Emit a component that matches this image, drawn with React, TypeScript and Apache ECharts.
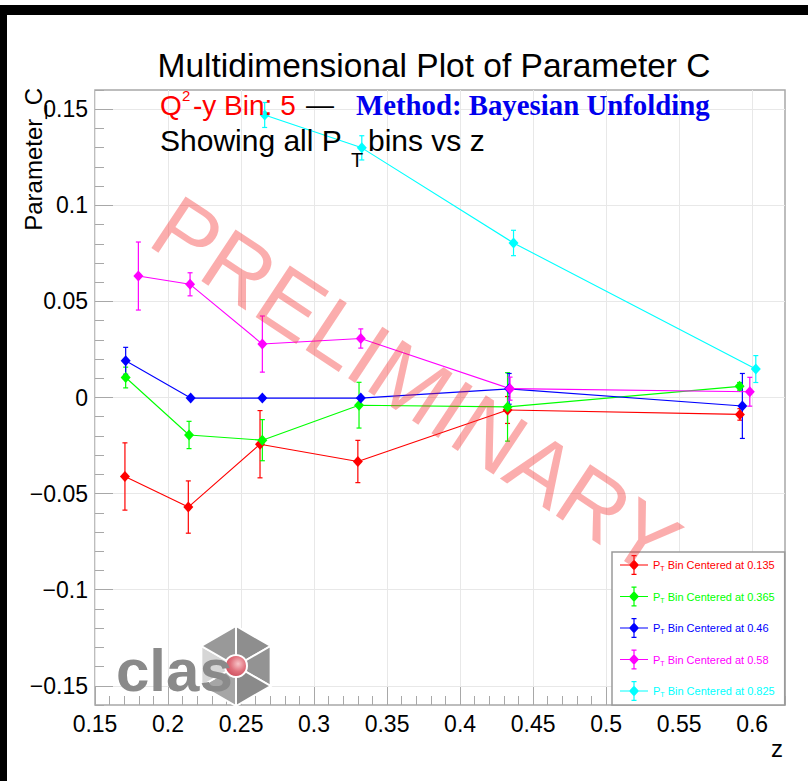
import React, { useEffect, useRef } from 'react';
import * as echarts from 'echarts';

// ---- data ----
const ptBins = ['0.135', '0.365', '0.46', '0.58', '0.825'];
const seriesColors = ['#ff0000', '#00ff00', '#0000ff', '#ff00ff', '#00ffff'];

const zRed = [0.1705, 0.2139, 0.263, 0.33, 0.4325, 0.5916];
const cRed = [-0.0411, -0.057, -0.0243, -0.0333, -0.0065, -0.0088];
const eRed = [0.0175, 0.0136, 0.0175, 0.011, 0.007, 0.003];

const zGreen = [0.171, 0.2144, 0.2646, 0.3308, 0.4325, 0.5914];
const cGreen = [0.0104, -0.0195, -0.0222, -0.004, -0.0049, 0.0058];
const eGreen = [0.0054, 0.0071, 0.0107, 0.0119, 0.0178, 0.002];

const zBlue = [0.171, 0.2155, 0.2646, 0.332, 0.4336, 0.5933];
const cBlue = [0.0191, -0.0003, -0.0003, -0.0003, 0.0045, -0.0044];
const eBlue = [0.007, 0.0008, 0.0008, 0.0008, 0.008, 0.0169];

const zMagenta = [0.1797, 0.2151, 0.2646, 0.332, 0.4342, 0.5984];
const cMagenta = [0.0632, 0.0589, 0.0278, 0.0307, 0.0046, 0.003];
const eMagenta = [0.0177, 0.006, 0.0146, 0.005, 0.006, 0.0075];

const zCyan = [0.2662, 0.3327, 0.4366, 0.6025];
const cCyan = [0.147, 0.1299, 0.0804, 0.0148];
const eCyan = [0.0065, 0.0063, 0.0066, 0.007];

const xMajorTicks = [0.15, 0.2, 0.25, 0.3, 0.35, 0.4, 0.45, 0.5, 0.55, 0.6];
const yMajorTicks = [-0.15, -0.1, -0.05, 0, 0.05, 0.1, 0.15];

const allZ = [zRed, zGreen, zBlue, zMagenta, zCyan];
const allC = [cRed, cGreen, cBlue, cMagenta, cCyan];
const allE = [eRed, eGreen, eBlue, eMagenta, eCyan];

const FONT = 'Liberation Sans, Arial, Helvetica, sans-serif';

function fmt(v: number) {
  if (Math.abs(v) < 1e-9) return '0';
  const s = String(+v.toFixed(3));
  return s.replace('-', '\u2212');
}

export default function App() {
  const ref = useRef<HTMLDivElement>(null);

  useEffect(() => {
    if (!ref.current) return;
    const chart = echarts.init(ref.current, null, { renderer: 'svg' });

    const names = ptBins.map((b) => `PT Bin Centered at ${b}`);

    const series: any[] = [];
    names.forEach((name, i) => {
      const color = seriesColors[i];
      const z = allZ[i];
      const c = allC[i];
      const e = allE[i];
      series.push({
        type: 'custom',
        name,
        xAxisIndex: 0,
        yAxisIndex: 0,
        z: 3,
        silent: true,
        itemStyle: { color },
        encode: { x: 0, y: 1 },
        data: z.map((zz, k) => [zz, c[k], e[k]]),
        renderItem: (params: any, api: any) => {
          const x = api.value(0);
          const y = api.value(1);
          const er = api.value(2);
          const top = api.coord([x, y + er]);
          const bot = api.coord([x, y - er]);
          const style = { stroke: color, lineWidth: 1.2 };
          return {
            type: 'group',
            children: [
              { type: 'line', shape: { x1: top[0], y1: top[1], x2: bot[0], y2: bot[1] }, style },
              { type: 'line', shape: { x1: top[0] - 2.5, y1: top[1], x2: top[0] + 2.5, y2: top[1] }, style },
              { type: 'line', shape: { x1: bot[0] - 2.5, y1: bot[1], x2: bot[0] + 2.5, y2: bot[1] }, style },
            ],
          };
        },
      });
      series.push({
        type: 'line',
        name,
        xAxisIndex: 0,
        yAxisIndex: 0,
        z: 4,
        data: z.map((zz, k) => [zz, c[k]]),
        symbol: 'diamond',
        symbolSize: [10, 11],
        showSymbol: true,
        itemStyle: { color },
        lineStyle: { color, width: 1.1 },
      });
    });

    const legendIcon =
      'path://M0,9.4L28,9.4L28,10.6L0,10.6Z M13.4,0L14.6,0L14.6,20L13.4,20Z M11.5,0L16.5,0L16.5,1.2L11.5,1.2Z M11.5,18.8L16.5,18.8L16.5,20L11.5,20Z M14,4.5L19,10L14,15.5L9,10Z';

    // logo hexagon
    const cx = 236, cy = 666, R = 40;
    const V = [0, 1, 2, 3, 4, 5].map((k) => {
      const a = -Math.PI / 2 + (k * Math.PI) / 3;
      return [cx + R * Math.cos(a), cy + R * Math.sin(a)];
    });
    const triFill = ['#8e8e8e', '#939393', '#8a8a8a', '#a6a6a6', '#d6d6d6', '#999999'];
    const hexTris = V.map((v, k) => ({
      type: 'polygon',
      shape: { points: [[cx, cy], v, V[(k + 1) % 6]] },
      style: { fill: triFill[k], stroke: '#ffffff', lineWidth: 2 },
      z: 1,
    }));

    const minorTick = { show: true, inside: true, length: 9, lineStyle: { color: '#a8a8a8', width: 1 } };

    const option: any = {
      animation: false,
      backgroundColor: '#ffffff',
      title: {
        text: 'Multidimensional Plot of Parameter C',
        left: 434,
        textAlign: 'center',
        top: 46,
        padding: 0,
        textStyle: { fontFamily: FONT, fontSize: 33.5, fontWeight: 'normal', color: '#000', lineHeight: 38 },
      },
      grid: {
        left: 95,
        top: 90,
        width: 690,
        height: 615,
        show: true,
        borderColor: '#a8a8a8',
        borderWidth: 1.5,
        backgroundColor: 'transparent',
      },
      legend: {
        orient: 'vertical',
        left: 612,
        top: 552,
        padding: [3, 10, 4, 8],
        itemGap: 11.5,
        itemWidth: 28,
        itemHeight: 20,
        icon: legendIcon,
        backgroundColor: '#ffffff',
        borderColor: '#9a9a9a',
        borderWidth: 1.5,
        z: 10,
        selectedMode: false,
        formatter: (name: string) => {
          const rest = name.replace(/^PT/, '');
          return `{p|P}{s|T}{p|${rest}}`;
        },
        textStyle: {
          fontFamily: FONT,
          fontSize: 11,
          rich: {
            p: { fontFamily: FONT, fontSize: 11 },
            s: { fontFamily: FONT, fontSize: 7, padding: [7, 0, 0, 0] },
          },
        },
        data: names.map((n, i) => ({ name: n, textStyle: { color: seriesColors[i] } })),
      },
      xAxis: [
        {
          type: 'value',
          min: 0.15,
          max: 0.6225,
          interval: 0.01,
          position: 'bottom',
          axisLine: { show: false, onZero: false },
          axisTick: minorTick,
          axisLabel: { show: false },
          splitLine: { show: false },
        },
        {
          type: 'value',
          min: 0.15,
          max: 0.6225,
          splitNumber: 10,
          position: 'bottom',
          offset: 0,
          axisLine: { show: false, onZero: false },
          axisTick: {
            show: true,
            inside: true,
            length: 18,
            customValues: xMajorTicks,
            lineStyle: { color: '#a8a8a8', width: 1 },
          },
          axisLabel: {
            show: true,
            customValues: xMajorTicks,
            margin: 7,
            fontFamily: FONT,
            fontSize: 23,
            color: '#000',
            formatter: (v: number) => fmt(v),
          },
          splitLine: { show: true, lineStyle: { color: '#e8e8e8', width: 1 } },
        },
      ],
      yAxis: [
        {
          type: 'value',
          min: -0.16,
          max: 0.16,
          interval: 0.01,
          position: 'left',
          axisLine: { show: false, onZero: false },
          axisTick: minorTick,
          axisLabel: { show: false },
          splitLine: { show: false },
        },
        {
          type: 'value',
          min: -0.16,
          max: 0.16,
          position: 'left',
          offset: 0,
          axisLine: { show: false, onZero: false },
          axisTick: {
            show: true,
            inside: true,
            length: 18,
            customValues: yMajorTicks,
            lineStyle: { color: '#a8a8a8', width: 1 },
          },
          axisLabel: {
            show: true,
            customValues: yMajorTicks,
            margin: 7,
            fontFamily: FONT,
            fontSize: 23,
            color: '#000',
            formatter: (v: number) => fmt(v),
          },
          splitLine: { show: true, lineStyle: { color: '#e8e8e8', width: 1 } },
        },
      ],
      graphic: [
        // outer black frame pieces
        { type: 'rect', shape: { x: 0, y: 5, width: 808, height: 10 }, style: { fill: '#000' }, z: 100 },
        { type: 'rect', shape: { x: 0, y: 5, width: 7, height: 776 }, style: { fill: '#000' }, z: 100 },
        // subtitle line 1
        {
          type: 'text', x: 160, y: 105, z: 50,
          style: { text: 'Q', fill: '#ff0000', fontFamily: FONT, fontSize: 28, verticalAlign: 'middle', align: 'left' },
        },
        {
          type: 'text', x: 182, y: 95, z: 50,
          style: { text: '2', fill: '#ff0000', fontFamily: FONT, fontSize: 15, verticalAlign: 'middle', align: 'left' },
        },
        {
          type: 'text', x: 193, y: 105, z: 50,
          style: { text: '-y Bin: 5', fill: '#ff0000', fontFamily: FONT, fontSize: 28, verticalAlign: 'middle', align: 'left' },
        },
        {
          type: 'text', x: 306, y: 104, z: 50,
          style: { text: '\u2014', fill: '#000', fontFamily: FONT, fontSize: 28, verticalAlign: 'middle', align: 'left' },
        },
        {
          type: 'text', x: 356, y: 105, z: 50,
          style: {
            text: 'Method: Bayesian Unfolding', fill: '#0000ee', fontFamily: 'Liberation Serif, Times New Roman, serif',
            fontWeight: 'bold', fontSize: 28.8, verticalAlign: 'middle', align: 'left',
          },
        },
        // subtitle line 2
        {
          type: 'text', x: 160, y: 140, z: 50,
          style: { text: 'Showing all P', fill: '#000', fontFamily: FONT, fontSize: 30, verticalAlign: 'middle', align: 'left' },
        },
        {
          type: 'text', x: 351, y: 160, z: 50,
          style: { text: 'T', fill: '#000', fontFamily: FONT, fontSize: 20, verticalAlign: 'middle', align: 'left' },
        },
        {
          type: 'text', x: 368, y: 140, z: 50,
          style: { text: 'bins vs z', fill: '#000', fontFamily: FONT, fontSize: 30, verticalAlign: 'middle', align: 'left' },
        },
        // y axis title
        {
          type: 'text', x: 33, y: 88, rotation: Math.PI / 2, z: 50,
          style: { text: 'Parameter_C', fill: '#000', fontFamily: FONT, fontSize: 24, align: 'right', verticalAlign: 'middle' },
        },
        // x axis title
        {
          type: 'text', x: 777, y: 748, z: 50,
          style: { text: 'z', fill: '#000', fontFamily: FONT, fontSize: 24, align: 'center', verticalAlign: 'middle' },
        },
        // logo
        ...hexTris,
        {
          type: 'circle', shape: { cx: cx, cy: cy, r: 11 }, z: 2,
          style: {
            fill: new echarts.graphic.RadialGradient(0.6, 0.4, 0.7, [
              { offset: 0, color: '#f8c4c8' },
              { offset: 0.5, color: '#e0707c' },
              { offset: 1, color: '#c84858' },
            ]),
            stroke: '#ffffff', lineWidth: 2,
          },
        },
        {
          type: 'text', x: 116, y: 700, z: 3,
          style: {
            text: 'clas', fill: '#8a8a8a', fontFamily: FONT, fontWeight: 'bold', fontSize: 60,
            align: 'left', verticalAlign: 'bottom',
          },
        },
        // watermark
        {
          type: 'text', x: 416, y: 386, rotation: -0.585, z: 60,
          style: {
            text: 'PRELIMINARY', fill: 'rgba(245,40,40,0.38)', fontFamily: FONT, fontSize: 90,
            align: 'center', verticalAlign: 'middle',
          },
        },
      ],
      series,
    };

    chart.setOption(option);
    return () => chart.dispose();
  }, []);

  return (
    <div
      ref={ref}
      style={{ position: 'absolute', left: 0, top: 0, width: 808, height: 781, background: '#fff' }}
    />
  );
}
